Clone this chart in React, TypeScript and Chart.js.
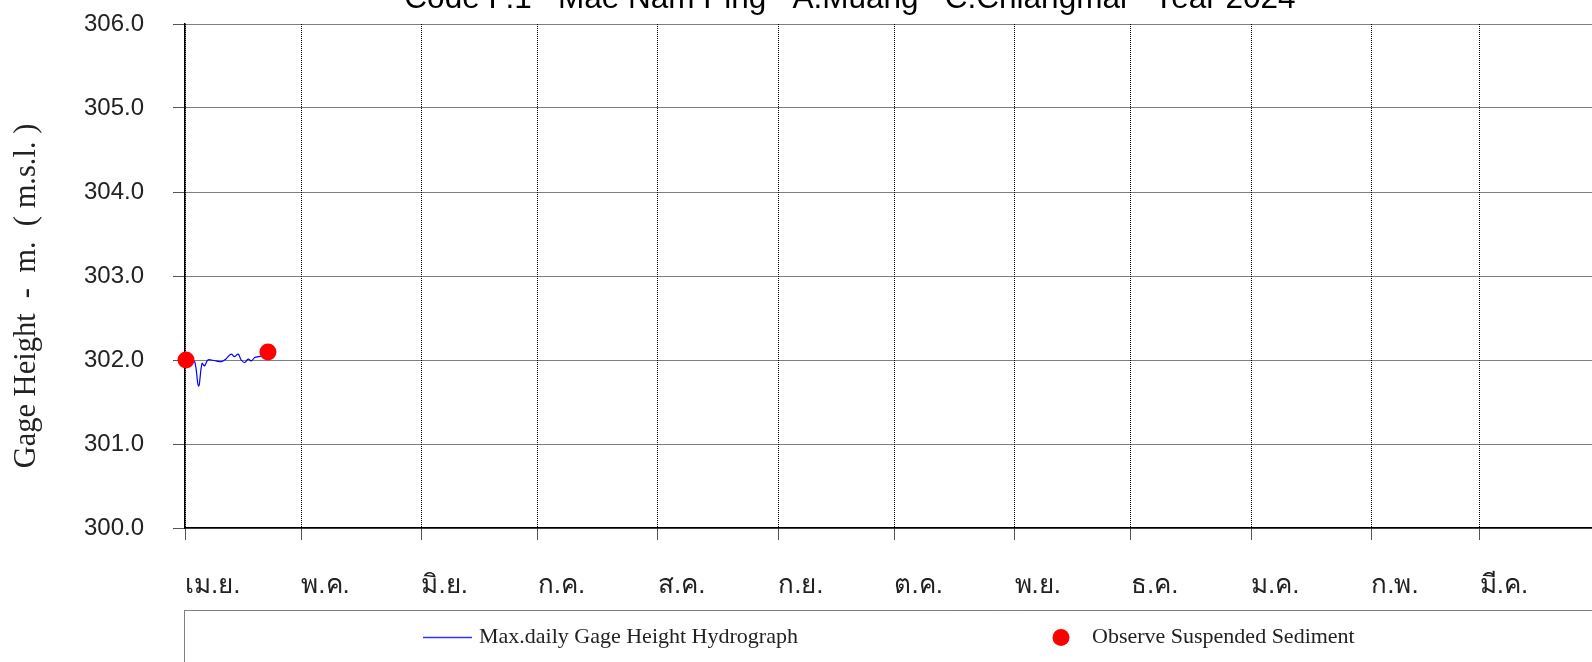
import React, { useEffect, useRef } from "react";
import { Chart, registerables } from "chart.js";

Chart.register(...registerables);

// ---- Text ----
const TITLE = "Code P.1   Mae Nam Ping   A.Muang   C.Chiangmai   Year 2024";
const Y_TITLE = "Gage Height  -  m.  ( m.s.l. )";
const LEGEND_LINE_LABEL = "Max.daily Gage Height Hydrograph";
const LEGEND_DOT_LABEL = "Observe Suspended Sediment";

// ---- X axis: days counted from 1 April 2024 ----
const MONTH_START_DAYS = [0, 30, 61, 91, 122, 153, 183, 214, 244, 275, 306, 334, 365];
const MONTH_LABELS = ["เม.ย.", "พ.ค.", "มิ.ย.", "ก.ค.", "ส.ค.", "ก.ย.", "ต.ค.", "พ.ย.", "ธ.ค.", "ม.ค.", "ก.พ.", "มี.ค.", ""];

// ---- Y axis ----
const Y_MIN = 300;
const Y_MAX = 306;
const Y_STEP = 1;

// ---- Max daily gage height (m. msl) ----
const gageDays = [0.5, 1.5, 2.5, 3.5, 4.4, 5.0, 5.9, 6.8, 8.0, 9.4, 10.5, 11.9, 12.8, 13.7, 14.5, 15.4, 16.3, 17.1, 18.0, 19.0, 20.0, 21.0];
const gageHeights = [302.0, 302.0, 301.98, 301.69, 301.96, 301.93, 302.0, 302.0, 301.99, 301.98, 302.01, 302.07, 302.04, 302.07, 302.0, 301.97, 302.01, 301.99, 302.03, 302.04, 302.05, 302.07];

// ---- Observed suspended sediment samples ----
const sedimentDays = [0.26, 21.4];
const sedimentHeights = [302.0, 302.095];

const CANVAS_W = 1640;
const CANVAS_H = 700;

const SANS = "'Liberation Sans', Arial, 'Noto Sans', sans-serif";
const SERIF = "'Liberation Serif', 'Times New Roman', serif";

const decorPlugin = {
  id: "decor",
  afterDraw(chart: any) {
    const ctx = chart.ctx as CanvasRenderingContext2D;
    ctx.save();
    // Title
    ctx.fillStyle = "#000";
    ctx.font = `31.5px ${SANS}`;
    ctx.textAlign = "center";
    ctx.textBaseline = "alphabetic";
    ctx.fillText(TITLE, 850, 8);

    // Y title (rotated)
    ctx.save();
    ctx.translate(27, 296);
    ctx.rotate(-Math.PI / 2);
    ctx.font = `30.5px ${SERIF}`;
    ctx.fillStyle = "#222";
    ctx.textAlign = "center";
    ctx.textBaseline = "middle";
    ctx.fillText(Y_TITLE, 0, 0);
    ctx.restore();

    // Legend box
    ctx.save();
    ctx.strokeStyle = "#000";
    ctx.lineWidth = 1;
    ctx.setLineDash([1, 1]);
    ctx.strokeRect(184.5, 610.5, CANVAS_W, 200);
    ctx.restore();

    const ly = 637.5;
    ctx.strokeStyle = "#3333ff";
    ctx.lineWidth = 1.5;
    ctx.beginPath();
    ctx.moveTo(423, ly);
    ctx.lineTo(472, ly);
    ctx.stroke();

    ctx.font = `22px ${SERIF}`;
    ctx.fillStyle = "#222";
    ctx.textAlign = "left";
    ctx.textBaseline = "middle";
    ctx.fillText(LEGEND_LINE_LABEL, 479, ly);

    ctx.fillStyle = "#ff0000";
    ctx.beginPath();
    ctx.arc(1061, ly, 8.5, 0, Math.PI * 2);
    ctx.fill();

    ctx.fillStyle = "#222";
    ctx.fillText(LEGEND_DOT_LABEL, 1092, ly);
    ctx.restore();
  },
};

export default function App() {
  const canvasRef = useRef<HTMLCanvasElement | null>(null);

  useEffect(() => {
    const canvas = canvasRef.current;
    if (!canvas) return;
    const chart = new Chart(canvas, {
      type: "line",
      data: {
        datasets: [
          {
            label: LEGEND_DOT_LABEL,
            data: sedimentDays.map((d, i) => ({ x: d, y: sedimentHeights[i] })),
            showLine: false,
            pointRadius: 8.5,
            pointHoverRadius: 8.5,
            pointBackgroundColor: "#ff0000",
            pointBorderWidth: 0,
            borderColor: "#ff0000",
            backgroundColor: "#ff0000",
            clip: false,
          } as any,
          {
            label: LEGEND_LINE_LABEL,
            data: gageDays.map((d, i) => ({ x: d, y: gageHeights[i] })),
            borderColor: "#0000ff",
            borderWidth: 1.2,
            pointRadius: 0,
            tension: 0.4,
            fill: false,
          },
        ],
      },
      options: {
        responsive: false,
        animation: false,
        events: [],
        layout: { padding: { top: 24, left: 0, right: 40, bottom: 0 } },
        plugins: {
          legend: { display: false },
          title: { display: false },
          tooltip: { enabled: false },
        },
        scales: {
          x: {
            type: "linear",
            min: 0,
            max: 365,
            afterFit: (s: any) => {
              s.height = 172;
              s.paddingLeft = 0;
              s.paddingRight = 0;
              s.paddingTop = 0;
              s.paddingBottom = 0;
            },
            afterBuildTicks: (s: any) => {
              s.ticks = MONTH_START_DAYS.map((v) => ({ value: v }));
            },
            ticks: {
              autoSkip: false,
              maxRotation: 0,
              minRotation: 0,
              align: "start",
              padding: 30,
              color: "#222",
              font: { family: SANS, size: 26 },
              callback: (v: any) => {
                const i = MONTH_START_DAYS.indexOf(Number(v));
                return i >= 0 ? MONTH_LABELS[i] : "";
              },
            },
            grid: { color: "#000", lineWidth: 1, tickLength: 12, tickColor: "#555" },
            border: { display: true, color: "#000", width: 1.5, dash: [1, 1] },
          },
          y: {
            type: "linear",
            min: Y_MIN,
            max: Y_MAX,
            afterFit: (s: any) => {
              s.width = 185;
              s.paddingTop = 0;
              s.paddingBottom = 0;
              s.paddingLeft = 0;
              s.paddingRight = 0;
            },
            ticks: {
              stepSize: Y_STEP,
              padding: 29,
              color: "#222",
              font: { family: SANS, size: 24 },
              callback: (v: any) => Number(v).toFixed(1),
            },
            grid: { color: "#000", lineWidth: 1, tickLength: 12, tickColor: "#555" },
            border: { display: true, color: "#000", width: 1.5, dash: [1, 1] },
          },
        },
      },
      plugins: [decorPlugin],
    });
    return () => chart.destroy();
  }, []);

  return (
    <div
      style={{
        position: "fixed",
        left: 0,
        top: 0,
        width: 1592,
        height: 662,
        overflow: "hidden",
        background: "#fff",
      }}
    >
      <canvas
        ref={canvasRef}
        width={CANVAS_W}
        height={CANVAS_H}
        style={{ display: "block", width: CANVAS_W, height: CANVAS_H }}
      />
    </div>
  );
}
